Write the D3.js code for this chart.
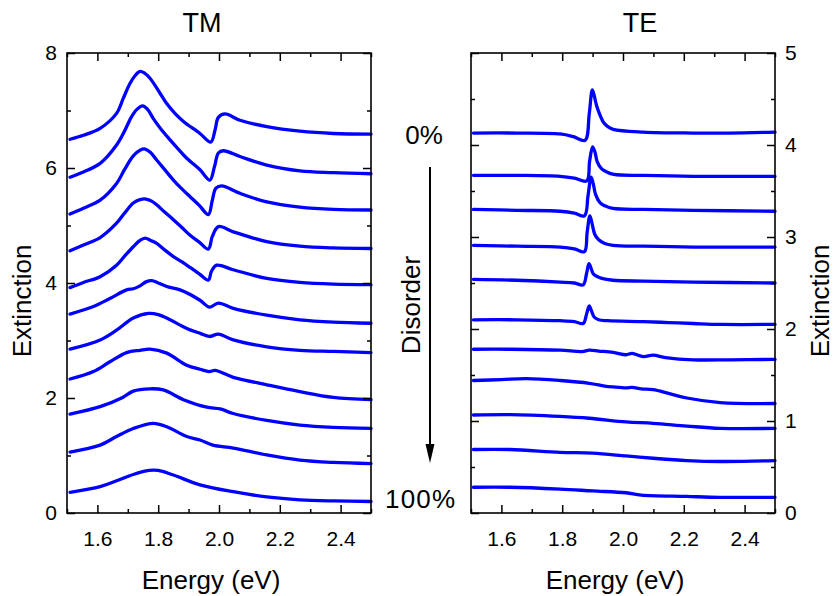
<!DOCTYPE html>
<html>
<head>
<meta charset="utf-8">
<script src="https://cdn.jsdelivr.net/npm/d3@7"></script>
<style>
  html, body { margin: 0; padding: 0; background: #fff; }
  svg { display: block; font-family: "Liberation Sans", Arial, sans-serif; }
</style>
</head>
<body>
<svg id="chart" width="834" height="596"></svg>
<script>
// Extinction spectra, [energy (eV), extinction], from 0% to 100% disorder.
// TM polarisation
const tm000 = [[1.51,6.50],[1.554,6.57],[1.609,6.69],[1.663,6.95],[1.685,7.21],[1.707,7.47],[1.723,7.60],[1.740,7.68],[1.755,7.65],[1.773,7.56],[1.806,7.30],[1.828,7.12],[1.855,6.95],[1.883,6.81],[1.9375,6.60],[1.973,6.45],[1.987,6.66],[1.998,6.88],[2.020,6.94],[2.069,6.83],[2.157,6.72],[2.266,6.64],[2.376,6.60],[2.50,6.59]];
const tm010 = [[1.51,5.84],[1.554,5.93],[1.609,6.08],[1.663,6.40],[1.69,6.65],[1.712,6.89],[1.73,7.02],[1.749,7.08],[1.765,7.02],[1.784,6.86],[1.81,6.67],[1.839,6.49],[1.866,6.33],[1.894,6.17],[1.9375,5.97],[1.970,5.79],[1.985,6.02],[1.998,6.26],[2.014,6.30],[2.069,6.20],[2.157,6.05],[2.266,5.95],[2.376,5.92],[2.50,5.90]];
const tm020 = [[1.51,5.20],[1.554,5.30],[1.609,5.44],[1.663,5.73],[1.69,5.98],[1.718,6.21],[1.74,6.31],[1.757,6.33],[1.775,6.27],[1.795,6.14],[1.82,5.98],[1.850,5.79],[1.877,5.64],[1.905,5.50],[1.935,5.35],[1.965,5.19],[1.978,5.44],[1.99,5.65],[2.009,5.69],[2.069,5.56],[2.157,5.41],[2.266,5.32],[2.376,5.28],[2.50,5.27]];
const tm030 = [[1.51,4.56],[1.554,4.66],[1.609,4.79],[1.663,5.04],[1.69,5.22],[1.718,5.39],[1.74,5.45],[1.760,5.46],[1.78,5.42],[1.795,5.36],[1.82,5.24],[1.850,5.10],[1.877,4.97],[1.905,4.83],[1.935,4.71],[1.965,4.59],[1.978,4.81],[1.998,4.98],[2.047,4.89],[2.157,4.72],[2.266,4.64],[2.376,4.61],[2.50,4.60]];
const tm040 = [[1.51,3.92],[1.554,4.01],[1.609,4.11],[1.663,4.31],[1.69,4.47],[1.718,4.63],[1.74,4.74],[1.757,4.78],[1.775,4.74],[1.795,4.69],[1.82,4.58],[1.850,4.46],[1.877,4.37],[1.905,4.27],[1.935,4.16],[1.965,4.05],[1.975,4.20],[1.992,4.31],[2.047,4.23],[2.157,4.08],[2.266,4.01],[2.376,3.98],[2.50,3.97]];
const tm050 = [[1.51,3.46],[1.587,3.59],[1.641,3.73],[1.696,3.88],[1.718,3.90],[1.74,3.95],[1.76,4.02],[1.779,4.04],[1.80,4.00],[1.828,3.94],[1.872,3.88],[1.9375,3.70],[1.968,3.58],[1.998,3.65],[2.047,3.56],[2.157,3.44],[2.266,3.36],[2.376,3.32],[2.50,3.30]];
const tm060 = [[1.51,2.85],[1.609,3.01],[1.663,3.18],[1.718,3.39],[1.768,3.47],[1.80,3.45],[1.828,3.39],[1.894,3.21],[1.94,3.12],[1.968,3.07],[1.998,3.11],[2.047,3.01],[2.157,2.89],[2.266,2.83],[2.376,2.81],[2.50,2.79]];
const tm070 = [[1.51,2.33],[1.587,2.46],[1.641,2.63],[1.696,2.79],[1.74,2.83],[1.773,2.85],[1.828,2.78],[1.894,2.57],[1.9375,2.50],[1.968,2.46],[1.987,2.48],[2.047,2.36],[2.157,2.23],[2.266,2.11],[2.376,2.01],[2.50,1.97]];
const tm080 = [[1.51,1.72],[1.609,1.85],[1.683,2.01],[1.718,2.12],[1.773,2.16],[1.817,2.14],[1.883,1.97],[1.96,1.84],[2.004,1.81],[2.047,1.73],[2.157,1.61],[2.266,1.53],[2.376,1.49],[2.50,1.47]];
const tm090 = [[1.51,1.06],[1.609,1.18],[1.663,1.33],[1.718,1.47],[1.784,1.56],[1.828,1.50],[1.894,1.33],[1.9375,1.27],[1.98,1.18],[2.047,1.13],[2.157,1.01],[2.266,0.92],[2.376,0.88],[2.50,0.86]];
const tm100 = [[1.51,0.36],[1.609,0.46],[1.663,0.56],[1.718,0.67],[1.77,0.74],[1.80,0.74],[1.85,0.66],[1.9375,0.49],[2.047,0.37],[2.157,0.28],[2.266,0.23],[2.376,0.21],[2.50,0.20]];

// TE polarisation
const te000 = [[1.508,4.13],[1.65,4.13],[1.793,4.12],[1.837,4.09],[1.875,4.05],[1.889,4.34],[1.899,4.60],[1.905,4.54],[1.913,4.43],[1.925,4.32],[1.935,4.25],[1.95,4.20],[1.968,4.17],[2.067,4.14],[2.231,4.13],[2.35,4.13],[2.50,4.14]];
const te010 = [[1.508,3.67],[1.65,3.67],[1.793,3.66],[1.84,3.64],[1.881,3.61],[1.89,3.82],[1.900,3.98],[1.908,3.92],[1.915,3.82],[1.93,3.74],[1.945,3.71],[1.97,3.68],[2.067,3.67],[2.231,3.66],[2.50,3.66]];
const te020 = [[1.508,3.30],[1.65,3.29],[1.793,3.28],[1.84,3.26],[1.873,3.23],[1.885,3.45],[1.895,3.65],[1.902,3.58],[1.91,3.46],[1.925,3.37],[1.94,3.34],[1.967,3.31],[2.067,3.30],[2.231,3.29],[2.50,3.28]];
const te030 = [[1.508,2.91],[1.65,2.90],[1.793,2.89],[1.84,2.87],[1.873,2.84],[1.882,3.05],[1.891,3.23],[1.898,3.15],[1.907,3.03],[1.92,2.97],[1.94,2.93],[1.967,2.91],[2.067,2.90],[2.231,2.89],[2.50,2.89]];
const te040 = [[1.508,2.54],[1.65,2.53],[1.793,2.51],[1.84,2.50],[1.869,2.48],[1.88,2.60],[1.888,2.71],[1.895,2.66],[1.902,2.60],[1.915,2.57],[1.93,2.55],[1.967,2.53],[2.067,2.52],[2.231,2.51],[2.50,2.50]];
const te050 = [[1.508,2.10],[1.65,2.10],[1.793,2.09],[1.84,2.08],[1.869,2.06],[1.88,2.16],[1.889,2.25],[1.896,2.20],[1.905,2.13],[1.92,2.10],[1.95,2.09],[2.067,2.08],[2.15,2.07],[2.231,2.06],[2.32,2.05],[2.50,2.05]];
const te060 = [[1.508,1.78],[1.628,1.78],[1.793,1.77],[1.865,1.755],[1.889,1.77],[1.92,1.76],[1.968,1.745],[2.01,1.72],[2.03,1.735],[2.067,1.70],[2.099,1.715],[2.14,1.69],[2.231,1.665],[2.35,1.665],[2.50,1.67]];
const te070 = [[1.508,1.44],[1.60,1.45],[1.683,1.46],[1.793,1.44],[1.889,1.41],[1.94,1.38],[1.968,1.37],[2.01,1.36],[2.03,1.365],[2.06,1.35],[2.099,1.34],[2.15,1.30],[2.21,1.25],[2.32,1.20],[2.50,1.19]];
const te080 = [[1.508,1.065],[1.628,1.07],[1.793,1.05],[1.889,1.03],[2.01,0.99],[2.099,0.975],[2.21,0.945],[2.32,0.92],[2.50,0.92]];
const te090 = [[1.508,0.69],[1.628,0.69],[1.793,0.66],[1.90,0.65],[2.01,0.62],[2.099,0.595],[2.21,0.57],[2.32,0.56],[2.50,0.57]];
const te100 = [[1.508,0.28],[1.628,0.28],[1.793,0.26],[1.90,0.24],[2.01,0.22],[2.06,0.195],[2.21,0.18],[2.32,0.17],[2.50,0.17]];

const tmSeries = [tm000, tm010, tm020, tm030, tm040, tm050, tm060, tm070, tm080, tm090, tm100];
const teSeries = [te000, te010, te020, te030, te040, te050, te060, te070, te080, te090, te100];

// Axis ticks
const energyMajor = [1.6, 1.8, 2.0, 2.2, 2.4];
const energyMinor = [1.5, 1.7, 1.9, 2.1, 2.3, 2.5];
const tmMajor = [0, 2, 4, 6, 8];
const tmMinor = [1, 3, 5, 7];
const teMajor = [0, 1, 2, 3, 4, 5];
const teMinor = [0.5, 1.5, 2.5, 3.5, 4.5];

const svg = d3.select("#chart");
const plotTop = 53, plotBottom = 513;
const lineColor = "#0000ff";

function panel(opts) {
  const x = d3.scaleLinear().domain([1.5, 2.5]).range([opts.x0, opts.x1]);
  const y = d3.scaleLinear().domain(opts.yDomain).range([plotBottom, plotTop]);
  const g = svg.append("g");

  const line = d3.line()
    .x(d => x(d[0]))
    .y(d => y(d[1]))
    .curve(d3.curveCatmullRom.alpha(0.5));

  g.append("g").selectAll("path")
    .data(opts.series)
    .join("path")
    .attr("d", line)
    .attr("fill", "none")
    .attr("stroke", lineColor)
    .attr("stroke-width", 3.3)
    .attr("stroke-linejoin", "round")
    .attr("stroke-linecap", "round");

  const styleAxis = sel => {
    sel.select(".domain").remove();
    sel.selectAll(".tick line").attr("stroke", "#000").attr("stroke-width", 1.5);
    sel.selectAll(".tick text").attr("font-size", 21).attr("fill", "#000")
      .attr("font-family", "'Liberation Sans', Arial, sans-serif");
  };

  // bottom axis (labelled) and top axis, ticks pointing inward
  g.append("g").attr("transform", `translate(0,${plotBottom})`)
    .call(d3.axisBottom(x).tickValues(energyMajor).tickSize(-8).tickPadding(18).tickFormat(d3.format(".1f")))
    .call(styleAxis);
  g.append("g").attr("transform", `translate(0,${plotBottom})`)
    .call(d3.axisBottom(x).tickValues(energyMinor).tickSize(-4).tickFormat(""))
    .call(styleAxis);
  g.append("g").attr("transform", `translate(0,${plotTop})`)
    .call(d3.axisTop(x).tickValues(energyMajor).tickSize(-8).tickFormat(""))
    .call(styleAxis);
  g.append("g").attr("transform", `translate(0,${plotTop})`)
    .call(d3.axisTop(x).tickValues(energyMinor).tickSize(-4).tickFormat(""))
    .call(styleAxis);

  // left and right axes; labels on the side given by opts.labelSide
  const leftFmt = opts.labelSide === "left" ? d3.format("d") : "";
  const rightFmt = opts.labelSide === "right" ? d3.format("d") : "";
  g.append("g").attr("transform", `translate(${opts.x0},0)`)
    .call(d3.axisLeft(y).tickValues(opts.yMajor).tickSize(-8).tickPadding(10).tickFormat(leftFmt))
    .call(styleAxis);
  g.append("g").attr("transform", `translate(${opts.x0},0)`)
    .call(d3.axisLeft(y).tickValues(opts.yMinor).tickSize(-4).tickFormat(""))
    .call(styleAxis);
  g.append("g").attr("transform", `translate(${opts.x1},0)`)
    .call(d3.axisRight(y).tickValues(opts.yMajor).tickSize(-8).tickPadding(10).tickFormat(rightFmt))
    .call(styleAxis);
  g.append("g").attr("transform", `translate(${opts.x1},0)`)
    .call(d3.axisRight(y).tickValues(opts.yMinor).tickSize(-4).tickFormat(""))
    .call(styleAxis);

  // frame
  g.append("rect")
    .attr("x", opts.x0).attr("y", plotTop)
    .attr("width", opts.x1 - opts.x0).attr("height", plotBottom - plotTop)
    .attr("fill", "none").attr("stroke", "#000").attr("stroke-width", 1.6);

  // title
  svg.append("text")
    .attr("x", opts.titleX).attr("y", 32)
    .attr("text-anchor", "middle").attr("font-size", 27)
    .text(opts.title);

  // x-axis label
  svg.append("text")
    .attr("x", opts.xLabelX).attr("y", 589)
    .attr("text-anchor", "middle").attr("font-size", 26)
    .text("Energy (eV)");

  // y-axis label
  svg.append("text")
    .attr("transform", `translate(${opts.yLabelX},301) rotate(-90)`)
    .attr("text-anchor", "middle").attr("font-size", 26)
    .text("Extinction");
}

panel({
  x0: 67, x1: 371, yDomain: [0, 8], yMajor: tmMajor, yMinor: tmMinor,
  series: tmSeries, labelSide: "left", title: "TM", titleX: 202,
  xLabelX: 211, yLabelX: 31
});

panel({
  x0: 471, x1: 775, yDomain: [0, 5], yMajor: teMajor, yMinor: teMinor,
  series: teSeries, labelSide: "right", title: "TE", titleX: 640,
  xLabelX: 615, yLabelX: 829
});

// Disorder annotation between the panels
svg.append("text")
  .attr("x", 424).attr("y", 144)
  .attr("text-anchor", "middle").attr("font-size", 26)
  .text("0%");

svg.append("text")
  .attr("x", 420).attr("y", 508)
  .attr("text-anchor", "middle").attr("font-size", 26)
  .attr("textLength", 70).attr("lengthAdjust", "spacing")
  .text("100%");

svg.append("text")
  .attr("transform", "translate(420,305) rotate(-90)")
  .attr("text-anchor", "middle").attr("font-size", 26)
  .text("Disorder");

svg.append("line")
  .attr("x1", 430).attr("y1", 167)
  .attr("x2", 430).attr("y2", 446)
  .attr("stroke", "#000").attr("stroke-width", 2);

svg.append("path")
  .attr("d", d3.line()([[425.5, 444], [434.5, 444], [430, 463]]) + "Z")
  .attr("fill", "#000");
</script>
</body>
</html>
